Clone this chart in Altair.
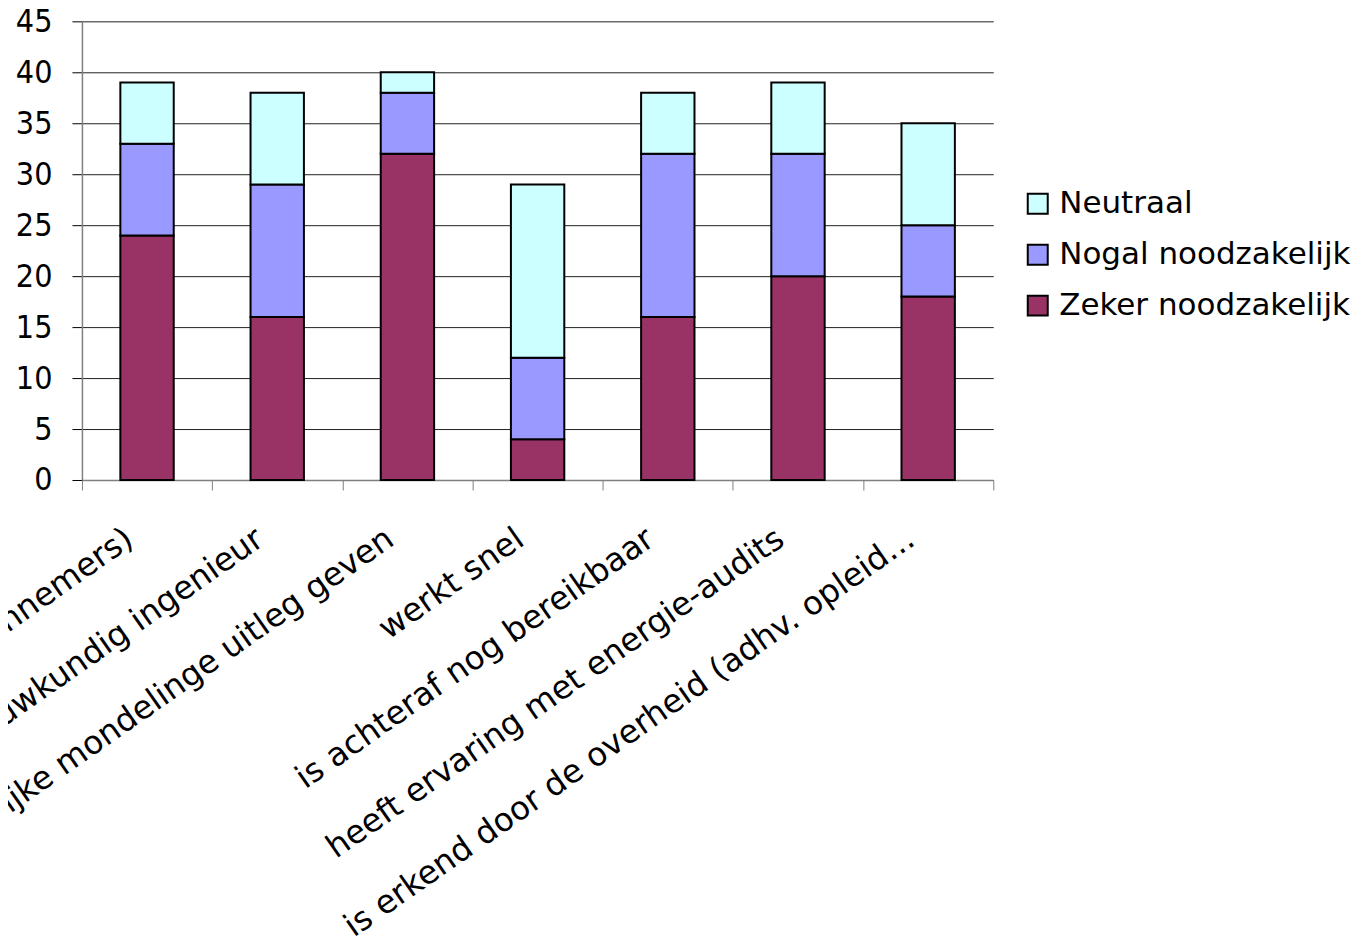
import altair as alt
import pandas as pd

categories = [
    "is onafhankelijk (van aannemers)",
    "is bouwkundig ingenieur",
    "kan duidelijke mondelinge uitleg geven",
    "werkt snel",
    "is achteraf nog bereikbaar",
    "heeft ervaring met energie-audits",
    "is erkend door de overheid (adhv. opleid...",
]
series = ["Neutraal", "Nogal noodzakelijk", "Zeker noodzakelijk"]
zeker = [24, 16, 32, 4, 16, 20, 18]
nogal = [9, 13, 6, 8, 16, 12, 7]
neutraal = [6, 9, 2, 17, 6, 7, 10]
colors = ["#CCFFFF", "#9999FF", "#993366"]
y_ticks = [0, 5, 10, 15, 20, 25, 30, 35, 40, 45]

FONT_C = "DejaVu Sans Condensed, Liberation Sans, sans-serif"
FONT = "DejaVu Sans, sans-serif"

rows = []
for i, c in enumerate(categories):
    rows.append({"cat": c, "series": "Zeker noodzakelijk", "value": zeker[i], "ord": 0})
    rows.append({"cat": c, "series": "Nogal noodzakelijk", "value": nogal[i], "ord": 1})
    rows.append({"cat": c, "series": "Neutraal", "value": neutraal[i], "ord": 2})
df = pd.DataFrame(rows)

chart = alt.Chart(df).mark_bar(
    width=alt.RelativeBandSize(0.41), stroke="black", strokeWidth=2
).encode(
    x=alt.X(
        "cat:N",
        sort=categories,
        scale=alt.Scale(paddingInner=0, paddingOuter=0),
        axis=alt.Axis(
            title=None,
            labelAngle=-35,
            labelAlign="right",
            labelBaseline="top",
            labelFontSize=32.5,
            labelFont=FONT,
            labelColor="black",
            labelPadding=32,
            labelOffset=-27,
            labelLimit=2000,
            labelOverlap=False,
            tickBand="extent",
            tickSize=10,
            tickColor="#808080",
            domainColor="#808080",
            domainWidth=1.5,
            grid=False,
        ),
    ),
    y=alt.Y(
        "value:Q",
        stack="zero",
        scale=alt.Scale(domain=[0, 45], nice=False),
        axis=alt.Axis(
            values=y_ticks,
            title=None,
            labelFontSize=32,
            labelFont=FONT_C,
            labelColor="black",
            labelPadding=20,
            tickSize=10,
            tickColor="black",
            domainColor="#808080",
            domainWidth=1.5,
            grid=True,
            gridColor="#222222",
            gridWidth=1,
        ),
    ),
    color=alt.Color(
        "series:N",
        scale=alt.Scale(domain=series, range=colors),
        legend=alt.Legend(
            title=None,
            orient="none",
            legendX=941,
            legendY=167,
            symbolType="square",
            symbolSize=400,
            symbolStrokeColor="black",
            symbolStrokeWidth=2,
            symbolOpacity=1,
            labelFontSize=31,
            labelFont=FONT,
            labelColor="black",
            labelOffset=6,
            rowPadding=19,
            labelLimit=1000,
        ),
    ),
    order=alt.Order("ord:Q", sort="ascending"),
).properties(
    width=912,
    height=459,
    autosize=alt.AutoSizeParams(type="none"),
    padding={"left": 74, "top": 13, "right": 368, "bottom": 460},
).configure_view(stroke=None)

chart.save("out.html", embed_options={"renderer": "svg", "actions": False})
